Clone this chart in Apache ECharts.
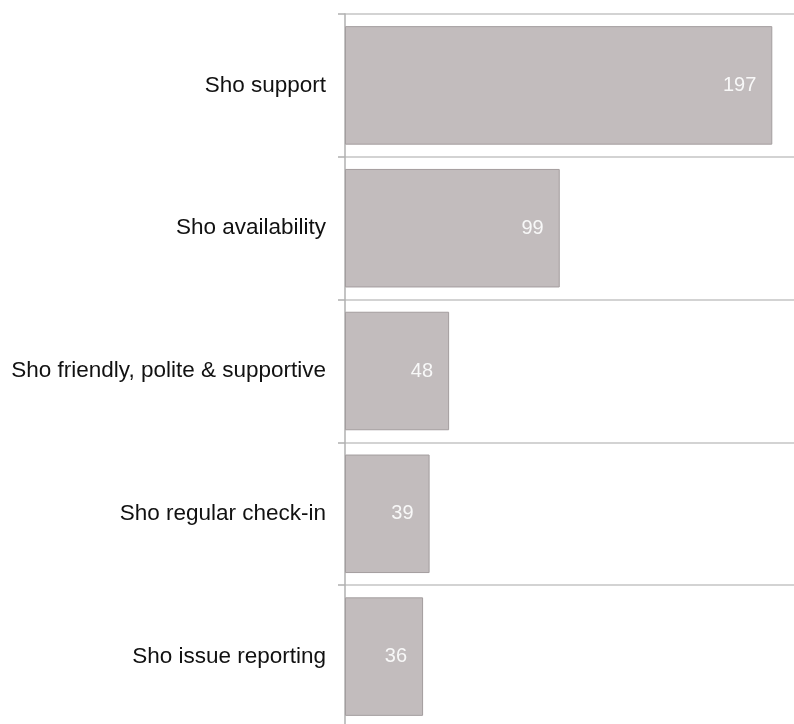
<!DOCTYPE html>
<html>
<head>
<meta charset="utf-8">
<script src="https://cdn.jsdelivr.net/npm/echarts@6/dist/echarts.min.js"></script>
<style>
html,body{margin:0;padding:0;background:#fff;overflow:hidden;width:794px;height:724px;}
#chart{width:794px;height:728px;}
</style>
</head>
<body>
<div id="chart"></div>
<script>
var categories = ["Sho support", "Sho availability", "Sho friendly, polite & supportive", "Sho regular check-in", "Sho issue reporting"];
var values = [197, 99, 48, 39, 36];

var chart = echarts.init(document.getElementById('chart'), null, {renderer: 'canvas'});
chart.setOption({
  animation: false,
  backgroundColor: '#ffffff',
  grid: {left: 345, right: 0, top: 14, bottom: 0, containLabel: false},
  xAxis: {
    type: 'value', min: 0, max: 207, show: false
  },
  yAxis: {
    type: 'category', data: categories, inverse: true,
    axisLine: {show: true, lineStyle: {color: '#b0b0b0', width: 1.5}},
    axisTick: {show: true, length: 7, lineStyle: {color: '#b0b0b0', width: 1.5}},
    splitLine: {show: true, lineStyle: {color: '#c4c4c4', width: 1.5}},
    axisLabel: {color: '#111111', fontSize: 22.5, fontFamily: 'Liberation Sans, Arial, sans-serif', margin: 19}
  },
  series: [{
    type: 'bar', data: values, barCategoryGap: '17%',
    itemStyle: {color: '#c2bcbd', borderColor: '#a39d9e', borderWidth: 1},
    label: {show: true, position: 'insideRight', distance: 16, color: '#f8f8f8', fontSize: 20, fontFamily: 'Liberation Sans, Arial, sans-serif'}
  }]
});
</script>
</body>
</html>
